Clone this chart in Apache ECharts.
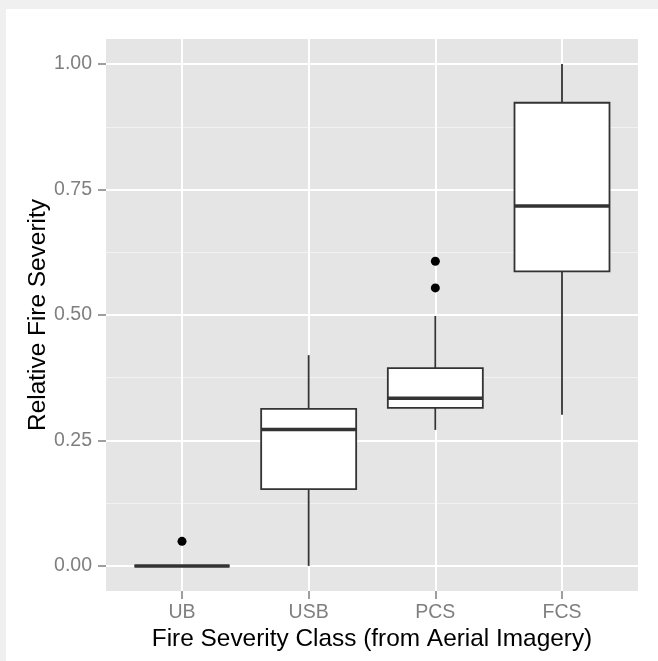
<!DOCTYPE html>
<html>
<head>
<meta charset="utf-8">
<script src="https://cdn.jsdelivr.net/npm/echarts@6/dist/echarts.min.js"></script>
<style>
  html, body { margin: 0; padding: 0; background: #f0f0f0; }
  #chart { position: absolute; left: 6px; top: 9px; width: 652px; height: 652px; background: #ffffff; }
</style>
</head>
<body>
<div id="chart"></div>
<script>
// fire severity class on x, relative severity on y
var categories = ["UB", "USB", "PCS", "FCS"];
var whiskerLow = [0, 0, 0.271, 0.301];
var q1 = [0, 0.153, 0.315, 0.587];
var median = [0, 0.272, 0.334, 0.717];
var q3 = [0, 0.313, 0.394, 0.923];
var whiskerHigh = [0, 0.42, 0.498, 1.0];
var outlierClass = ["UB", "PCS", "PCS"];
var outlierValue = [0.049, 0.607, 0.554];
var yTicks = [0, 0.25, 0.5, 0.75, 1];
var yMinor = [0.125, 0.375, 0.625, 0.875];

var font = "'Liberation Sans', Arial, Helvetica, sans-serif";
var xPos = categories.map(function (c, i) { return i + 1; });

var boxData = categories.map(function (c, i) {
  return [xPos[i], whiskerLow[i], q1[i], median[i], q3[i], whiskerHigh[i]];
});
var outlierData = outlierClass.map(function (c, i) {
  return [categories.indexOf(c) + 1, outlierValue[i]];
});

function renderBox(params, api) {
  var x = api.value(0);
  var half = api.size([0.75, 0])[0] / 2;
  var lo = api.coord([x, api.value(1)]);
  var b1 = api.coord([x, api.value(2)]);
  var md = api.coord([x, api.value(3)]);
  var b3 = api.coord([x, api.value(4)]);
  var hi = api.coord([x, api.value(5)]);
  var stroke = { stroke: "#333333", lineWidth: 1.8 };
  return {
    type: "group",
    children: [
      { type: "line", shape: { x1: hi[0], y1: hi[1], x2: b3[0], y2: b3[1] }, style: stroke },
      { type: "line", shape: { x1: b1[0], y1: b1[1], x2: lo[0], y2: lo[1] }, style: stroke },
      { type: "rect", shape: { x: b3[0] - half, y: b3[1], width: half * 2, height: b1[1] - b3[1] },
        style: { fill: "#ffffff", stroke: "#333333", lineWidth: 1.8 } },
      { type: "line", shape: { x1: md[0] - half, y1: md[1], x2: md[0] + half, y2: md[1] },
        style: { stroke: "#333333", lineWidth: 3.5 } }
    ]
  };
}

var myChart = echarts.init(document.getElementById("chart"));
var option = {
  animation: false,
  grid: {
    left: 100, top: 30, width: 532, height: 552,
    show: true, backgroundColor: "#e5e5e5", borderWidth: 0
  },
  xAxis: {
    type: "value", min: 0.4, max: 4.6,
    name: "Fire Severity Class (from Aerial Imagery)",
    nameLocation: "middle", nameGap: 36, nameMoveOverlap: false,
    nameTextStyle: { color: "#000", fontSize: 24.4, fontFamily: font },
    axisLine: { show: false, onZero: false },
    axisTick: { show: true, length: 8, customValues: xPos, lineStyle: { color: "#7f7f7f", width: 1.5 } },
    axisLabel: {
      customValues: xPos, margin: 12, color: "#7f7f7f", fontSize: 19.5, fontFamily: font,
      formatter: function (v) { return categories[Math.round(v) - 1]; }
    },
    splitLine: { show: true, lineStyle: { color: "#ffffff", width: 2 } }
  },
  yAxis: [
    {
      type: "value", min: -0.05, max: 1.05,
      name: "Relative Fire Severity",
      nameLocation: "middle", nameGap: 56, nameMoveOverlap: false,
      nameTextStyle: { color: "#000", fontSize: 24.4, fontFamily: font },
      axisLine: { show: false, onZero: false },
      axisTick: { show: true, length: 8, customValues: yTicks, lineStyle: { color: "#7f7f7f", width: 1.5 } },
      axisLabel: {
        customValues: yTicks, margin: 14, color: "#7f7f7f", fontSize: 19.5, fontFamily: font,
        formatter: function (v) { return v.toFixed(2); }
      },
      splitLine: { show: true, lineStyle: { color: "#ffffff", width: 2 } }
    },
    {
      type: "value", min: -0.05, max: 1.05, position: "left",
      axisLine: { show: false, onZero: false },
      axisTick: { show: false, customValues: yMinor },
      axisLabel: { show: false, customValues: yMinor },
      splitLine: { show: true, lineStyle: { color: "#f2f2f2", width: 1 } }
    }
  ],
  series: [
    {
      type: "custom", renderItem: renderBox, data: boxData,
      encode: { x: 0, y: [1, 2, 3, 4, 5] }, z: 3
    },
    {
      type: "scatter", data: outlierData, symbolSize: 9,
      itemStyle: { color: "#000000", opacity: 1 }, z: 4
    }
  ]
};
myChart.setOption(option);
</script>
</body>
</html>
